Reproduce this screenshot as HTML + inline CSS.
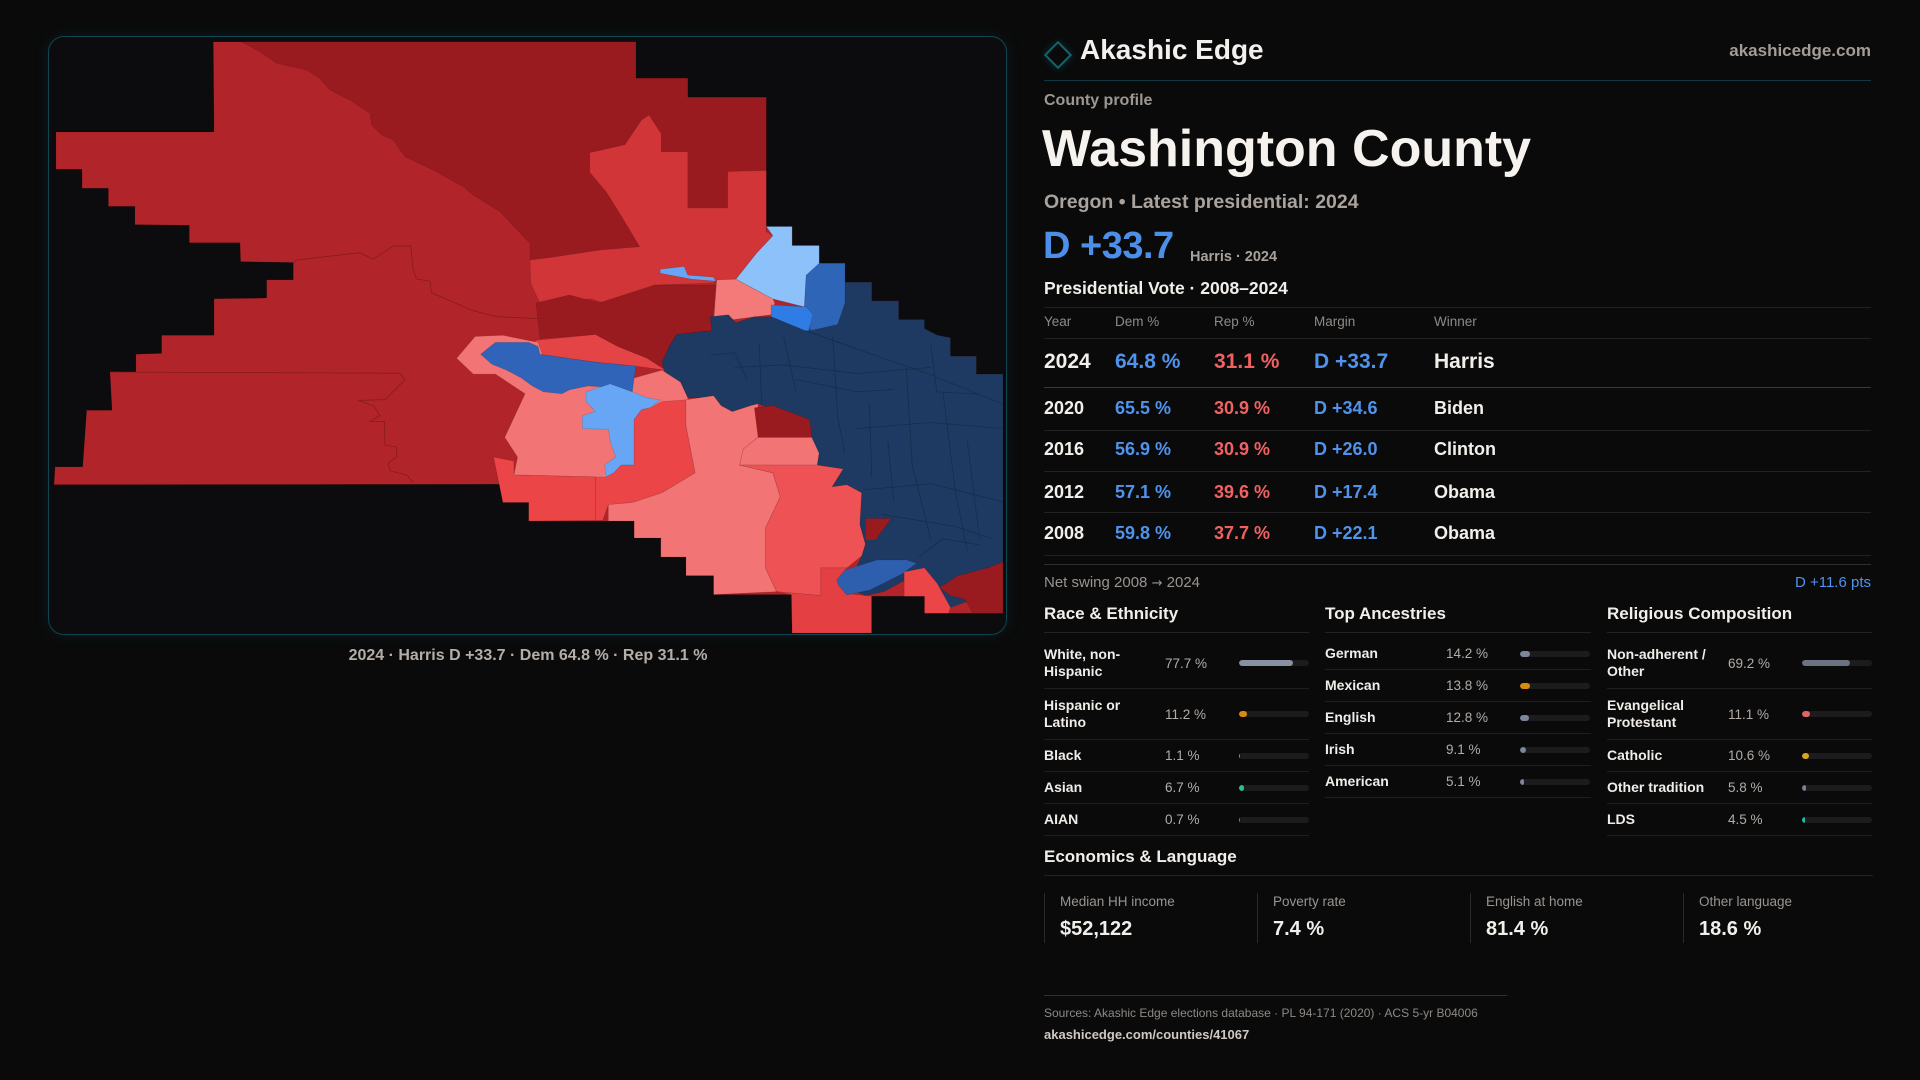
<!DOCTYPE html>
<html>
<head>
<meta charset="utf-8">
<style>
*{box-sizing:border-box;margin:0;padding:0}
body{width:1920px;height:1080px;background:#0a0a0b;position:relative;overflow:hidden;font-family:"Liberation Sans",Arial,sans-serif;color:#f2eeea}
.t{position:absolute;white-space:nowrap}
.b{font-weight:bold}
.panel{position:absolute;left:48px;top:36px;width:959px;height:599px;border:1px solid #0f4650;border-radius:16px;background:#0c0b0d;box-shadow:0 0 14px rgba(20,90,100,0.22)}
svg.map{position:absolute;left:0;top:0}
svg.map polygon{stroke:#000;stroke-opacity:.16;stroke-width:.5}
.hl{position:absolute;height:1px;left:1044px;width:827px;background:#222225}
.col{position:absolute;top:638px;width:265px}
.row{display:flex;align-items:center;border-bottom:1px solid #1f1f22}
.lab{width:121px;font-weight:bold;font-size:14px;line-height:17.5px;color:#f0ece8}
.val{width:74px;font-size:13.5px;color:#b3aca6}
.bar{width:70px;height:6px;border-radius:3px;background:#1c1c1f;position:relative;overflow:hidden}
.bar i{position:absolute;left:0;top:0;height:6px;border-radius:3px}
.h32{height:32px}.h51{height:51px}
.card{position:absolute;top:893px;height:50px;border-left:1px solid #2a2a2d;width:212px}
.card .l{position:absolute;left:15px;top:2px;font-size:13.5px;line-height:14px;color:#9a948f;white-space:nowrap}
.card .v{position:absolute;left:15px;top:26px;font-size:20px;line-height:20px;font-weight:bold;color:#f2eeea;white-space:nowrap}
.arr{font-family:"DejaVu Sans",sans-serif;font-size:13px}
</style>
</head>
<body>

<div class="panel"></div>

<svg class="map" width="1920" height="1080" viewBox="0 0 1568 882">
<!-- base -->
<polygon fill="#b1252a" points="174.2,34.2 519.4,34.2 519.4,63.9 561.7,63.9 561.7,79.4 625.8,79.4 625.8,185 646.9,185 646.9,200.5 669,200.5 669,215 690.1,215 690.1,230.5 711.9,230.5 711.9,245.7 733.9,245.7 733.9,260.9 755,260.9 755,268.4 765.6,273.8 776.2,275.8 776.2,290.9 797.3,290.9 797.3,305.5 819.1,305.5 819.1,500.8 755,500.8 755,486.9 711.8,486.9 711.8,517 646.9,517 646.3,485.6 582.9,485.6 582.9,470.1 560.2,470.1 560.2,454.9 539.7,454.9 539.7,439.4 517.9,439.4 517.9,425.5 431.8,425.5 431.8,410.4 410.7,410.4 408.5,395.5 44.1,395.8 45,381.3 67.5,381.3 70.8,335 91.5,335 89.8,303.8 111,303.8 111,289.3 132,288.6 132,273.8 174.8,273.8 174.8,244 217.8,243.4 217.8,228.6 239.5,228.6 239.5,214.4 196.5,213.7 196,198.2 154.6,198.2 154.6,184 110.2,183.4 110.2,168.5 88.5,168.5 88.5,153.7 67,153.7 67,138.2 45.7,138.2 45.7,107.8 174.8,107.8"/>
<!-- dark red NE -->
<polygon fill="#9a1b1f" points="197.4,34.2 519.4,34.2 519.4,63.9 561.7,63.9 561.7,79.4 625.8,79.4 625.8,190 540,232 433.3,232 432.8,198.7 408.3,172.9 386.5,159.2 378.4,152.5 353.9,138.8 330.7,128 321.2,114.3 311.7,110.2 303.5,102 302.2,92.5 285.8,81.7 269.5,73.5 261.3,64 250.5,57.2 226,51.7 212,42"/>
<!-- red C -->
<polygon fill="#d13538" points="481.6,124.6 510.3,118.2 523.9,98.1 530,93.9 540,109.1 540,124 561.7,124 561.7,169.9 594.3,169.9 594.3,140.1 625.8,139.2 625.8,189.2 631.2,192.5 616.1,208.6 601,228 585.3,228.6 582.8,231.2 534.5,232.8 501.3,250.6 483.2,244.1 440.8,247.4 433.3,231.2 432.8,212.3 449.9,210.2 490,204.2 522.4,201.5 507.3,176.3 495.2,156.9 481.6,140.8"/>
<!-- dark middle band -->
<polygon fill="#9a1b1f" points="437.8,247.4 465,240.9 489.2,247.4 534.5,232.8 584.4,232.8 582.8,250.6 581.3,270 552.6,273.2 546.6,282.9 543.6,302.3 528.5,292.6 504.3,282.9 486.2,273.2 440.9,276.4"/>
<!-- red band under -->
<polygon fill="#e54446" points="437,278 486.2,273.2 504.3,282.9 528.5,292.6 543.6,302.3 519.4,299 486.2,295.8 440.9,289.3"/>
<!-- salmon small NE -->
<polygon fill="#f47a7a" points="585.3,228.6 601,228 631.2,244.1 632.7,247.4 629.7,257 604,260.3 582.8,263.5"/>
<!-- navy -->
<polygon fill="#1e3a62" points="579.8,258.7 594.9,257 601,263.5 616.1,258.7 629.7,258.7 658.4,270 682.5,263.5 690.1,247.4 690.1,230.5 711.9,230.5 711.9,245.7 733.9,245.7 733.9,260.9 755,260.9 755,268.4 765.6,273.8 776.2,275.8 776.2,290.9 797.3,290.9 797.3,305.5 819.1,305.5 819.1,458.9 806.4,463.8 797.3,476.7 794.3,489.6 776.2,496 764.1,486.4 752,471.8 736.9,475 721.8,483.2 706.7,486.4 691.6,479.9 703.7,454.1 706.7,444.4 702.2,428.3 703.7,402.4 691.6,395.9 679.5,397.6 688.6,383 667.4,379.8 668.9,370.1 662.9,360.4 661.4,347.5 631.2,334.6 619.1,329.7 613.1,331.3 598,336.2 588.9,331.3 582.8,323.2 570.8,324.9 561.7,324.9 555.7,312 543.6,305.5 540.6,295.8 546.6,282.9 552.6,273.2 581.3,270"/>
<!-- light blue NE -->
<polygon fill="#8dc1fa" points="625.8,185 646.9,185 646.9,200.5 669,200.5 669,215 679.5,216.7 658.4,224.7 656.9,250.6 631.2,244.1 601,228 617.6,207 631.2,192.5"/>
<!-- medium blue block -->
<polygon fill="#2f65b7" points="658.4,224.7 669,215 690.1,215 690.1,247.4 684,265 662,270 656.9,250.6"/>
<!-- bright blue strip -->
<polygon fill="#2f7ce4" points="629.7,249 658.4,250.6 664,257 660,271 629.7,258.6"/>
<!-- light blue small -->
<polygon fill="#66a6f5" points="539.1,219.9 558.7,217.6 561.7,224.7 582.8,226.4 584.4,229.6 564.7,228 539.1,223.1"/>
<!-- salmon big west -->
<polygon fill="#f27474" points="372.9,292.6 388,274.8 410.6,273.8 439.4,279.6 449.9,308.7 465,316.8 480.1,314.5 517.9,308.7 540.6,302.3 555.7,312 561.7,324.9 560.2,347.5 567.7,386.3 540.6,402.4 516.4,410.4 496.8,412.1 492.2,425 486.2,425 486.2,389.5 419.7,387.9 422.7,373.3 412.2,357.2 428.8,321.6 404.6,305.5 386.5,305.5"/>
<!-- blue cluster west -->
<polygon fill="#2f64b8" points="392.5,289.3 404.6,279.6 431.8,279.6 439.4,282.9 440.9,289.3 486.2,295.8 519.4,299 517.9,308.7 516.4,320 504.3,316.8 480.1,315.2 465,318.4 459,321.6 443.9,320 434.8,315.2 425.8,308.7 413.7,302.3 401.6,297.4"/>
<!-- light blue west -->
<polygon fill="#67a6f4" points="478.6,320 498.3,313.5 516.4,320 528.5,324.9 539.1,326.5 531.5,332.9 524,334.5 517.9,342.6 517.9,379.8 507.3,379.8 501.3,386.2 495.2,389.5 493.7,379.8 502.8,373.3 498.3,360.4 496.8,350.6 475.6,350 475.6,339.4 486.2,336.1 478.6,328.1"/>
<!-- R1 -->
<polygon fill="#ec4548" points="403.1,373.3 419.7,376.5 419.7,387.9 486.2,389.5 486.2,425 431.8,425.5 431.8,410.4 410.7,410.4"/>
<!-- R2 -->
<polygon fill="#ec4548" points="517.9,342.6 524,334.5 531.5,332.9 540.6,328 560.2,326.5 560.2,347.5 567.7,386.2 540.6,402.4 516.4,410.4 496.8,412.1 492.2,425 486.2,425 486.2,389.5 495.2,389.5 501.3,386.2 507.3,379.8 517.9,379.8"/>
<!-- big salmon south -->
<polygon fill="#f27474" points="560.2,326.5 570.8,324.9 582.8,323.2 588.9,331.3 598,336.2 613.1,331.3 619.1,329.7 619.1,357.1 607,366.8 604,379.8 631.2,386.2 637.2,405.6 625.1,431.4 625.1,463.8 634.2,483.2 582.8,485.6 582.8,470.1 560.2,470.1 560.2,454.9 539.7,454.9 539.7,439.4 517.9,439.4 517.9,425.5 496.8,425.5 496.8,412.1 516.4,410.4 540.6,402.4 567.7,386.2 560.2,347.5"/>
<!-- salmon small 2 -->
<polygon fill="#f27474" points="619.1,357.1 662.9,357.1 668.9,370.1 667.4,379.8 604,379.8 607,366.8"/>
<!-- SE red -->
<polygon fill="#ef5254" points="604,379.8 667.4,379.8 688.6,383 679.5,397.6 691.6,395.9 703.7,402.4 702.2,428.3 706.7,444.4 703.7,454.1 691.6,463.8 670.4,463.8 670.4,486.4 634.2,483.2 625.1,463.8 625.1,431.4 637.2,405.6 631.2,386.2"/>
<!-- bottom red -->
<polygon fill="#e44043" points="634.2,483.2 670.4,486.4 670.4,463.8 691.6,463.8 684,473.4 691.6,484.7 711.8,486.9 711.8,517 646.9,517 646.3,485.6"/>
<!-- dark red pockets -->
<polygon fill="#9a1b1f" points="616.1,333 631.2,331.3 661.4,342.6 662.9,357.1 619.1,357.1"/>
<polygon fill="#9a1b1f" points="706.7,423.4 727.9,423.4 715,441 706.7,441"/>
<!-- medium blue bottom strip -->
<polygon fill="#2e5fae" points="683.3,473.7 690,465.5 716,457.3 740.5,457.3 748.6,460 737.7,468.2 710.5,481.8 691.5,485.9 684.6,477.8"/>
<!-- bottom-right pieces -->
<polygon fill="#ec4548" points="738.4,467 755,463.8 765.6,476.7 776.2,496 774.7,500.8 755,500.8 755,486.9 738.4,486.9"/>
<polygon fill="#9a1b1f" points="782.2,470.2 806.4,463.8 819.1,458.9 819.1,500.8 794.3,500.8 788.3,489.6 776.2,486.4 767.1,479.9"/>
<!-- boundary lines -->
<g fill="none" stroke="#86181c" stroke-width=".6">
<polyline points="89.8,303.8 326.6,304.8 330.7,310.3 314.4,326.4 292.6,327 304.9,331.3 310.3,339.3 302.1,344.2 313.9,344.2 314.4,363.6 323.9,365.2 323.9,373.2 317.1,378.1 318.5,384.5 332.1,387.8 337.5,394.3"/>
<polyline points="239.5,214.4 242.3,212.3 294,206.4 304.9,211.8 321.2,200.9 335.4,200.9 337.5,220.5 340.3,227.9 351.1,229.5 352.5,239.2 386.5,253.8 405.6,258.6 441,260.2"/>
</g>
<g fill="none" stroke="#152c4c" stroke-width=".6">
<polyline points="658,270 700,285 760,306 819,330"/>
<polyline points="600,300 640,298 700,305 760,300"/>
<polyline points="620,280 622,330"/>
<polyline points="680,275 684,340 690,370"/>
<polyline points="700,350 760,345 819,350"/>
<polyline points="740,300 745,380 760,440"/>
<polyline points="770,320 780,400 790,450"/>
<polyline points="705,400 760,395 819,410"/>
<polyline points="720,420 780,430 810,440"/>
<polyline points="650,310 700,320 730,318"/>
<polyline points="790,360 800,440"/>
<polyline points="710,330 712,390"/>
<polyline points="640,275 650,320"/>
<polyline points="760,280 765,320 800,322"/>
<polyline points="725,360 730,410"/>
<polyline points="750,455 770,440 800,445"/>
<polyline points="580,290 600,288 610,310"/>
</g>
</svg>

<div class="t b" style="left:0;width:1056px;text-align:center;top:648px;font-size:16px;line-height:16px;color:#b5aea8">2024 · Harris D +33.7 · Dem 64.8 % · Rep 31.1 %</div>

<!-- header -->
<div style="position:absolute;left:1048px;top:45px;width:20px;height:20px;border:2px solid #126470;transform:rotate(45deg);box-shadow:0 0 8px rgba(18,120,130,0.35)"></div>
<div class="t b" style="left:1080px;top:36px;font-size:28px;line-height:28px;color:#f4f0ec">Akashic Edge</div>
<div class="t b" style="right:49px;top:42px;font-size:17px;line-height:17px;color:#a39d97">akashicedge.com</div>
<div style="position:absolute;left:1044px;top:80px;width:827px;height:1px;background:#0f3a44"></div>

<div class="t b" style="left:1044px;top:93px;font-size:16px;line-height:16px;color:#9d9791">County profile</div>
<div class="t b" style="left:1042px;top:123px;font-size:52px;line-height:52px;color:#f6f3ef">Washington County</div>
<div class="t b" style="left:1044px;top:192px;font-size:19.5px;line-height:20px;color:#aaa39d">Oregon • Latest presidential: 2024</div>
<div class="t b" style="left:1043px;top:227px;font-size:38px;line-height:38px;letter-spacing:-0.5px;color:#4b8fe9">D +33.7</div>
<div class="t b" style="left:1190px;top:250px;font-size:14.5px;line-height:15px;color:#a8a29c">Harris · 2024</div>
<div class="t b" style="left:1044px;top:279px;font-size:17.5px;line-height:18px;color:#f2eeea">Presidential Vote · 2008–2024</div>

<!-- table -->
<div class="hl" style="top:307px"></div>
<div class="hl" style="top:338px"></div>
<div class="hl" style="top:387px;background:#38383c"></div>
<div class="hl" style="top:430px"></div>
<div class="hl" style="top:471px"></div>
<div class="hl" style="top:512px"></div>
<div class="hl" style="top:555px"></div>
<div class="hl" style="top:564px;background:#2e2e31"></div>

<div class="t" style="left:1044px;top:315px;font-size:13.5px;line-height:14px;color:#8f8a85">Year</div>
<div class="t" style="left:1115px;top:315px;font-size:13.5px;line-height:14px;color:#8f8a85">Dem %</div>
<div class="t" style="left:1214px;top:315px;font-size:13.5px;line-height:14px;color:#8f8a85">Rep %</div>
<div class="t" style="left:1314px;top:315px;font-size:13.5px;line-height:14px;color:#8f8a85">Margin</div>
<div class="t" style="left:1434px;top:315px;font-size:13.5px;line-height:14px;color:#8f8a85">Winner</div>

<div class="t b" style="left:1044px;top:351px;font-size:21px;line-height:21px;color:#f2eeea">2024</div>
<div class="t b" style="left:1115px;top:351px;font-size:21px;line-height:21px;color:#4f93ec">64.8 %</div>
<div class="t b" style="left:1214px;top:351px;font-size:21px;line-height:21px;color:#f06262">31.1 %</div>
<div class="t b" style="left:1314px;top:351px;font-size:21px;line-height:21px;color:#4f93ec">D +33.7</div>
<div class="t b" style="left:1434px;top:351px;font-size:21px;line-height:21px;color:#f2eeea">Harris</div>

<div class="t b" style="left:1044px;top:399px;font-size:18px;line-height:18px;color:#f2eeea">2020</div>
<div class="t b" style="left:1115px;top:399px;font-size:18px;line-height:18px;color:#4f93ec">65.5 %</div>
<div class="t b" style="left:1214px;top:399px;font-size:18px;line-height:18px;color:#f06262">30.9 %</div>
<div class="t b" style="left:1314px;top:399px;font-size:18px;line-height:18px;color:#4f93ec">D +34.6</div>
<div class="t b" style="left:1434px;top:399px;font-size:18px;line-height:18px;color:#f2eeea">Biden</div>

<div class="t b" style="left:1044px;top:440px;font-size:18px;line-height:18px;color:#f2eeea">2016</div>
<div class="t b" style="left:1115px;top:440px;font-size:18px;line-height:18px;color:#4f93ec">56.9 %</div>
<div class="t b" style="left:1214px;top:440px;font-size:18px;line-height:18px;color:#f06262">30.9 %</div>
<div class="t b" style="left:1314px;top:440px;font-size:18px;line-height:18px;color:#4f93ec">D +26.0</div>
<div class="t b" style="left:1434px;top:440px;font-size:18px;line-height:18px;color:#f2eeea">Clinton</div>

<div class="t b" style="left:1044px;top:483px;font-size:18px;line-height:18px;color:#f2eeea">2012</div>
<div class="t b" style="left:1115px;top:483px;font-size:18px;line-height:18px;color:#4f93ec">57.1 %</div>
<div class="t b" style="left:1214px;top:483px;font-size:18px;line-height:18px;color:#f06262">39.6 %</div>
<div class="t b" style="left:1314px;top:483px;font-size:18px;line-height:18px;color:#4f93ec">D +17.4</div>
<div class="t b" style="left:1434px;top:483px;font-size:18px;line-height:18px;color:#f2eeea">Obama</div>

<div class="t b" style="left:1044px;top:524px;font-size:18px;line-height:18px;color:#f2eeea">2008</div>
<div class="t b" style="left:1115px;top:524px;font-size:18px;line-height:18px;color:#4f93ec">59.8 %</div>
<div class="t b" style="left:1214px;top:524px;font-size:18px;line-height:18px;color:#f06262">37.7 %</div>
<div class="t b" style="left:1314px;top:524px;font-size:18px;line-height:18px;color:#4f93ec">D +22.1</div>
<div class="t b" style="left:1434px;top:524px;font-size:18px;line-height:18px;color:#f2eeea">Obama</div>

<div class="t" style="left:1044px;top:575px;font-size:15px;line-height:15px;color:#9a948f">Net swing 2008 <span class="arr">→</span> 2024</div>
<div class="t" style="right:49px;top:575px;font-size:15px;line-height:15px;color:#4f93ec">D +11.6 pts</div>

<!-- section heads -->
<div class="t b" style="left:1044px;top:605px;font-size:17px;line-height:17px;color:#f2eeea">Race &amp; Ethnicity</div>
<div class="t b" style="left:1325px;top:605px;font-size:17px;line-height:17px;color:#f2eeea">Top Ancestries</div>
<div class="t b" style="left:1607px;top:605px;font-size:17px;line-height:17px;color:#f2eeea">Religious Composition</div>
<div style="position:absolute;top:632px;left:1044px;width:265px;height:1px;background:#232326"></div>
<div style="position:absolute;top:632px;left:1325px;width:266px;height:1px;background:#232326"></div>
<div style="position:absolute;top:632px;left:1607px;width:265px;height:1px;background:#232326"></div>

<div class="col" style="left:1044px">
  <div class="row h51"><div class="lab">White, non-<br>Hispanic</div><div class="val">77.7 %</div><div class="bar"><i style="width:54.4px;background:#8891a4"></i></div></div>
  <div class="row h51"><div class="lab">Hispanic or<br>Latino</div><div class="val">11.2 %</div><div class="bar"><i style="width:7.8px;background:#d98b10"></i></div></div>
  <div class="row h32"><div class="lab">Black</div><div class="val">1.1 %</div><div class="bar"><i style="width:1.2px;background:#8b7fdc"></i></div></div>
  <div class="row h32"><div class="lab">Asian</div><div class="val">6.7 %</div><div class="bar"><i style="width:4.7px;background:#2fbf87"></i></div></div>
  <div class="row h32"><div class="lab">AIAN</div><div class="val">0.7 %</div><div class="bar"><i style="width:1px;background:#d07020"></i></div></div>
</div>

<div class="col" style="left:1325px;width:266px">
  <div class="row h32"><div class="lab">German</div><div class="val">14.2 %</div><div class="bar"><i style="width:10px;background:#7d879b"></i></div></div>
  <div class="row h32"><div class="lab">Mexican</div><div class="val">13.8 %</div><div class="bar"><i style="width:9.7px;background:#d98b10"></i></div></div>
  <div class="row h32"><div class="lab">English</div><div class="val">12.8 %</div><div class="bar"><i style="width:9px;background:#7d879b"></i></div></div>
  <div class="row h32"><div class="lab">Irish</div><div class="val">9.1 %</div><div class="bar"><i style="width:6.4px;background:#7d879b"></i></div></div>
  <div class="row h32"><div class="lab">American</div><div class="val">5.1 %</div><div class="bar"><i style="width:3.6px;background:#7d879b"></i></div></div>
</div>

<div class="col" style="left:1607px">
  <div class="row h51"><div class="lab">Non-adherent /<br>Other</div><div class="val">69.2 %</div><div class="bar"><i style="width:48.4px;background:#6c7282"></i></div></div>
  <div class="row h51"><div class="lab">Evangelical<br>Protestant</div><div class="val">11.1 %</div><div class="bar"><i style="width:7.8px;background:#e06464"></i></div></div>
  <div class="row h32"><div class="lab">Catholic</div><div class="val">10.6 %</div><div class="bar"><i style="width:7.4px;background:#d9a420"></i></div></div>
  <div class="row h32"><div class="lab">Other tradition</div><div class="val">5.8 %</div><div class="bar"><i style="width:4.1px;background:#7a8090"></i></div></div>
  <div class="row h32"><div class="lab">LDS</div><div class="val">4.5 %</div><div class="bar"><i style="width:3.2px;background:#23b8a8"></i></div></div>
</div>

<!-- economics -->
<div class="t b" style="left:1044px;top:848px;font-size:17px;line-height:17px;color:#f2eeea">Economics &amp; Language</div>
<div style="position:absolute;top:875px;left:1044px;width:829px;height:1px;background:#232326"></div>
<div class="card" style="left:1044px"><div class="l">Median HH income</div><div class="v">$52,122</div></div>
<div class="card" style="left:1257px"><div class="l">Poverty rate</div><div class="v">7.4 %</div></div>
<div class="card" style="left:1470px"><div class="l">English at home</div><div class="v">81.4 %</div></div>
<div class="card" style="left:1683px"><div class="l">Other language</div><div class="v">18.6 %</div></div>

<!-- footer -->
<div style="position:absolute;top:995px;left:1044px;width:463px;height:1px;background:#17393f"></div>
<div class="t" style="left:1044px;top:1007px;font-size:12px;line-height:12px;color:#8e8984">Sources: Akashic Edge elections database · PL 94-171 (2020) · ACS 5-yr B04006</div>
<div class="t b" style="left:1044px;top:1028px;font-size:13px;line-height:13px;color:#cfc9c3">akashicedge.com/counties/41067</div>

</body>
</html>
